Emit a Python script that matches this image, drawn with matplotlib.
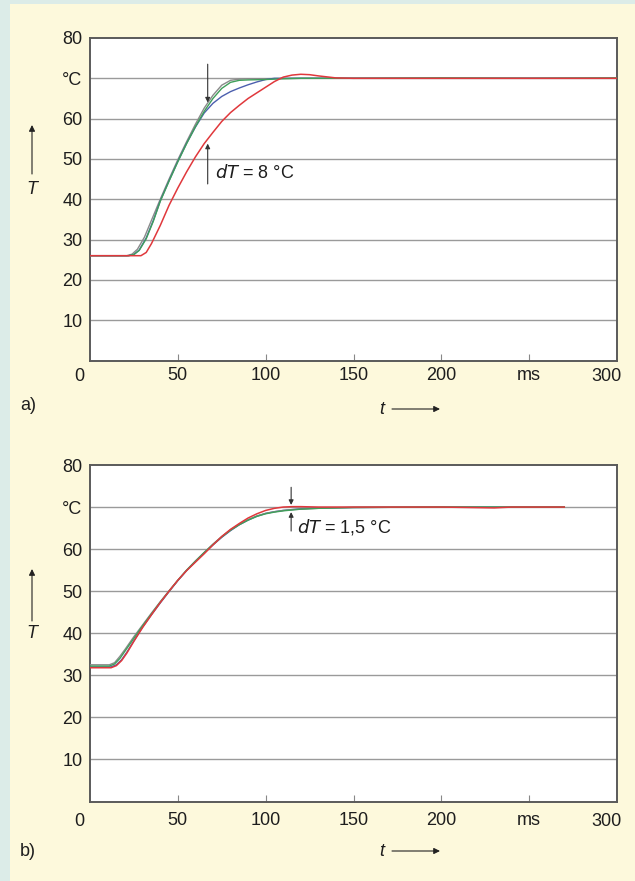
import matplotlib
matplotlib.use("Agg")
import matplotlib.pyplot as plt
from matplotlib.patches import Rectangle, FancyArrowPatch

plt.rcParams['font.family'] = ['Liberation Sans', 'DejaVu Sans']

W, H = 635, 881

# ---------------- data: panel a ----------------
t_a_green = [0, 22, 25, 28, 32, 36, 40, 45, 50, 55, 60, 65, 70, 75, 80, 85, 90, 100, 110, 120, 150, 200, 250, 300]
T_a_green = [26, 26, 26.3, 27.3, 30.2, 34.5, 39.5, 44.5, 49.3, 53.8, 58.0, 61.8, 65.0, 67.5, 69.0, 69.5, 69.6, 69.7, 69.9, 70.0, 70.0, 70.1, 70.0, 70.1]
t_a_gray = [0, 21, 24, 27, 31, 35, 40, 45, 50, 55, 60, 65, 70, 75, 80, 85, 90, 100, 120, 150, 200, 250, 300]
T_a_gray = [26, 26, 26.4, 27.6, 30.6, 34.8, 40.0, 45.0, 49.8, 54.3, 58.6, 62.6, 65.8, 68.3, 69.5, 69.8, 69.9, 69.9, 70.0, 70.0, 70.0, 70.0, 70.0]
t_a_blue = [0, 22, 25, 28, 32, 36, 40, 45, 50, 55, 60, 65, 70, 75, 80, 85, 90, 95, 100, 105, 120, 150, 200, 250, 300]
T_a_blue = [26, 26, 26.3, 27.4, 30.4, 34.7, 39.6, 44.6, 49.4, 53.9, 57.9, 61.4, 63.8, 65.5, 66.7, 67.6, 68.4, 69.1, 69.7, 70.0, 70.0, 70.0, 70.0, 70.0, 70.0]
t_a_red = [0, 29, 32, 35, 40, 45, 50, 55, 60, 65, 70, 75, 80, 85, 90, 95, 100, 105, 110, 115, 120, 125, 130, 140, 150, 200, 250, 300]
T_a_red = [26, 26, 26.8, 29.0, 33.5, 38.5, 42.8, 46.8, 50.5, 53.8, 56.6, 59.3, 61.5, 63.3, 65.0, 66.4, 67.8, 69.2, 70.3, 70.8, 71.0, 70.9, 70.6, 70.1, 70.0, 70.0, 70.0, 70.0]

# ---------------- data: panel b ----------------
t_b_gray = [0, 11, 14, 17, 20, 25, 30, 35, 40, 45, 50, 55, 60, 65, 70, 75, 80, 85, 90, 95, 100, 105, 110, 115, 120, 130, 150, 200, 250, 270]
T_b_gray = [32.5, 32.5, 33.0, 34.5, 36.2, 39.2, 42.0, 44.8, 47.5, 50.1, 52.6, 55.0, 57.2, 59.2, 61.2, 63.0, 64.6, 65.9, 67.0, 67.9, 68.5, 68.9, 69.2, 69.4, 69.5, 69.7, 69.9, 70.0, 70.0, 70.0]
t_b_green = [0, 11, 14, 17, 20, 25, 30, 35, 40, 45, 50, 55, 60, 65, 70, 75, 80, 85, 90, 95, 100, 105, 110, 115, 120, 130, 150, 200, 250, 270]
T_b_green = [32.2, 32.2, 32.7, 34.0, 35.8, 38.8, 41.8, 44.6, 47.4, 50.0, 52.6, 55.0, 57.1, 59.2, 61.1, 62.9, 64.5, 65.8, 66.9, 67.8, 68.4, 68.8, 69.1, 69.3, 69.5, 69.7, 69.9, 70.0, 70.0, 70.0]
t_b_blue = [0, 12, 15, 18, 21, 25, 30, 35, 40, 45, 50, 55, 60, 65, 70, 75, 80, 85, 90, 95, 100, 105, 110, 115, 120, 130, 150, 200, 250, 270]
T_b_blue = [32.0, 32.0, 32.5, 33.7, 35.5, 38.2, 41.5, 44.4, 47.2, 49.9, 52.5, 54.9, 57.0, 59.1, 61.0, 62.8, 64.4, 65.8, 66.9, 67.8, 68.5, 68.9, 69.2, 69.4, 69.6, 69.8, 69.9, 70.0, 70.0, 70.0]
t_b_red = [0, 12, 15, 18, 21, 25, 30, 35, 40, 45, 50, 55, 60, 65, 70, 75, 80, 85, 90, 95, 100, 105, 110, 115, 120, 130, 150, 200, 230, 240, 270]
T_b_red = [31.8, 31.8, 32.3, 33.5, 35.3, 38.1, 41.4, 44.4, 47.3, 50.0, 52.6, 54.9, 56.9, 58.9, 61.0, 63.0, 64.7, 66.1, 67.4, 68.4, 69.2, 69.7, 70.0, 70.1, 70.1, 70.0, 70.0, 70.0, 69.8, 70.0, 70.0]

y_ticks = [0, 10, 20, 30, 40, 50, 60, 70, 80]
y_labels = ['0', '10', '20', '30', '40', '50', '60', '°C', '80']
x_ticks = [0, 50, 100, 150, 200, 250, 300]
x_labels = ['0', '50', '100', '150', '200', 'ms', '300']

# annotations
dT_a = {'t': 67, 'upper': 64.0, 'lower': 53.8, 'text': r'$\it{dT}$ = 8 °C'}
dT_b = {'t': 114.5, 'upper': 70.5, 'lower': 68.8, 'text': r'$\it{dT}$ = 1,5 °C'}

COL = {'green': '#3f9f5a', 'gray': '#8a8a8a', 'blue': '#4c5fae', 'red': '#e0383c'}
FS = 13
TC = '#1e1e1e'

fig = plt.figure(figsize=(W / 100, H / 100), dpi=100)
fig.patch.set_facecolor('#dcece8')
fig.add_artist(Rectangle((10 / W, 0), 1 - 10 / W, 1 - 4 / H, transform=fig.transFigure,
                         facecolor='#fdf9dc', edgecolor='none', zorder=0))


def fx(px):
    return px / W


def fy(py):
    return 1 - py / H


def make_axes(top_px, bot_px, xpad):
    ax = fig.add_axes([fx(90), fy(bot_px), fx(617) - fx(90), fy(top_px) - fy(bot_px)])
    ax.set_facecolor('white')
    ax.set_xlim(0, 300)
    ax.set_ylim(0, 80)
    for s in ax.spines.values():
        s.set_color('#5a5a5a')
        s.set_linewidth(1.4)
    ax.set_yticks(y_ticks[1:])
    ax.set_yticklabels(y_labels[1:], fontsize=FS, color=TC)
    ax.tick_params(axis='y', length=0, pad=5.5)
    ax.set_xticks(x_ticks[1:-1])
    ax.set_xticklabels(x_labels[1:-1], fontsize=FS, color=TC)
    ax.tick_params(axis='x', direction='in', length=5, width=0.8, color='#888888', pad=xpad)
    for yv in y_ticks[1:-1]:
        ax.axhline(yv, color='#9a9a9a', lw=1.0, zorder=1)
    return ax


def dT_annot(ax, d, top_len, bot_len, tx, ty):
    ax.annotate('', xy=(d['t'], d['upper']), xytext=(d['t'], d['upper'] + top_len),
                arrowprops=dict(arrowstyle='-|>', lw=0.8, color='#333333', mutation_scale=7,
                                shrinkA=0, shrinkB=0), zorder=5)
    ax.annotate('', xy=(d['t'], d['lower']), xytext=(d['t'], d['lower'] - bot_len),
                arrowprops=dict(arrowstyle='-|>', lw=0.8, color='#333333', mutation_scale=7,
                                shrinkA=0, shrinkB=0), zorder=5)
    ax.text(tx, ty, d['text'], fontsize=FS, va='center', ha='left', color=TC)


# ---------------- panel a ----------------
axa = make_axes(38, 360.5, 5.0)
axa.plot(t_a_gray, T_a_gray, color=COL['gray'], lw=1.0, zorder=3)
axa.plot(t_a_blue, T_a_blue, color=COL['blue'], lw=1.0, zorder=3)
axa.plot(t_a_green, T_a_green, color=COL['green'], lw=1.0, zorder=3)
axa.plot(t_a_red, T_a_red, color=COL['red'], lw=1.1, zorder=4)
dT_annot(axa, dT_a, 9.5, 10, 71, 46.5)

# ---------------- panel b ----------------
axb = make_axes(465, 801.5, 7.5)
axb.plot(t_b_blue, T_b_blue, color=COL['blue'], lw=1.0, zorder=3)
axb.plot(t_b_gray, T_b_gray, color=COL['gray'], lw=1.0, zorder=3)
axb.plot(t_b_green, T_b_green, color=COL['green'], lw=1.0, zorder=3)
axb.plot(t_b_red, T_b_red, color=COL['red'], lw=1.1, zorder=4)
dT_annot(axb, dT_b, 4.2, 4.5, 118, 65.3)

# end labels (0 and 300), placed like in the reference (same top as the tick labels)
for top_px in (360.5 + 5.0 * 100 / 72 + 0.5, 801.5 + 7.5 * 100 / 72 + 1.0):
    fig.text(fx(79), fy(top_px), x_labels[0], fontsize=FS, ha='center', va='top', color=TC)
    fig.text(fx(606), fy(top_px), x_labels[-1], fontsize=FS, ha='center', va='top', color=TC)

# axis symbols with arrows
for tip_y, tail_y, T_y in [(125, 174, 190), (569, 621, 634)]:
    fig.add_artist(FancyArrowPatch((fx(32), fy(tail_y)), (fx(32), fy(tip_y)),
                   transform=fig.transFigure, arrowstyle='-|>', mutation_scale=9, lw=0.8,
                   color='#222222', shrinkA=0, shrinkB=0))
    fig.text(fx(32), fy(T_y), 'T', fontsize=FS, style='italic', ha='center', va='center', color=TC)

for t_y, lab, lab_y in [(409, 'a)', 405), (851, 'b)', 852)]:
    fig.text(fx(382), fy(t_y), 't', fontsize=FS, style='italic', ha='center', va='center', color=TC)
    fig.add_artist(FancyArrowPatch((fx(392), fy(t_y)), (fx(440), fy(t_y)),
                   transform=fig.transFigure, arrowstyle='-|>', mutation_scale=9, lw=0.8,
                   color='#222222', shrinkA=0, shrinkB=0))
    fig.text(fx(20), fy(lab_y), lab, fontsize=FS, ha='left', va='center', color=TC)

fig.savefig('out.png', dpi=100, facecolor=fig.get_facecolor())
